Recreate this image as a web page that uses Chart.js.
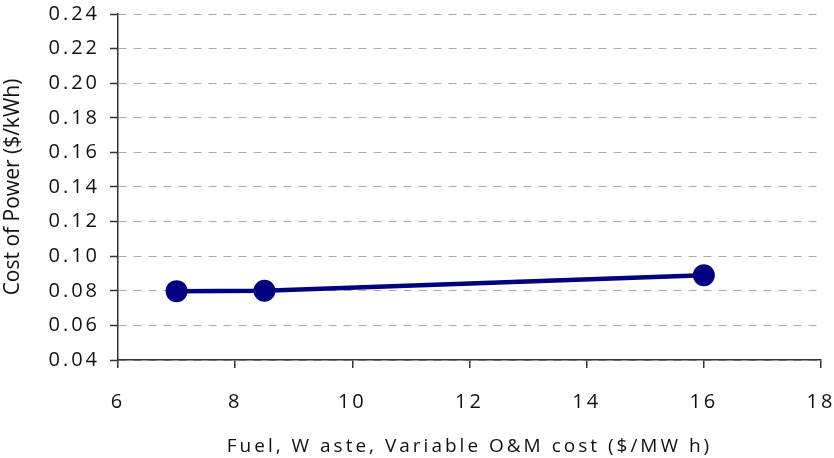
<!DOCTYPE html>
<html>
<head>
<meta charset="utf-8">
<script src="https://cdn.jsdelivr.net/npm/chart.js@4"></script>
<style>
  html, body { margin: 0; padding: 0; background: #fff; }
  #wrap { width: 834px; height: 458px; }
</style>
</head>
<body>
<div id="wrap"><canvas id="chart"></canvas></div>
<script>
// values
const costX = [7, 8.5, 16];            // $/MWh
const costOfPower = [0.0798, 0.0800, 0.0890]; // $/kWh
const xTicks = [6, 8, 10, 12, 14, 16, 18];
const yTicks = [0.04, 0.06, 0.08, 0.10, 0.12, 0.14, 0.16, 0.18, 0.20, 0.22, 0.24];

const navy = '#000080';
const axisColor = '#333';
const fontFamily = "'Open Sans', 'DejaVu Sans', sans-serif";
const letterGap = '3px';

// wide letter spacing like the original, but the y title is set normally
const spacing = {
  id: 'spacing',
  beforeInit(chart) { chart.ctx.letterSpacing = letterGap; },
  afterLayout(chart) {
    const ys = chart.scales.y;
    if (ys && !ys._patched) {
      const orig = ys.drawTitle.bind(ys);
      ys.drawTitle = function () {
        chart.ctx.letterSpacing = '0px';
        orig();
        chart.ctx.letterSpacing = letterGap;
      };
      ys._patched = true;
    }
  },
  beforeDraw(chart) { chart.ctx.letterSpacing = letterGap; }
};

const ctx = document.getElementById('chart').getContext('2d');
ctx.letterSpacing = letterGap;

new Chart(ctx, {
  type: 'scatter',
  data: {
    datasets: [{
      data: costX.map((x, i) => ({ x: x, y: costOfPower[i] })),
      showLine: true,
      borderColor: navy,
      backgroundColor: navy,
      borderWidth: 4.5,
      pointRadius: 11,
      pointHoverRadius: 11,
      pointBorderWidth: 0
    }]
  },
  options: {
    responsive: true,
    maintainAspectRatio: false,
    animation: false,
    layout: { padding: { top: 14, right: 13, left: 0, bottom: 0 } },
    plugins: {
      legend: { display: false },
      tooltip: { enabled: false }
    },
    scales: {
      x: {
        type: 'linear',
        min: 6,
        max: 18,
        afterBuildTicks: (scale) => { scale.ticks = xTicks.map(v => ({ value: v })); },
        afterFit: (scale) => {
          scale.height = 98;
          scale.paddingLeft = 0;
          scale.paddingRight = 0;
        },
        border: { color: axisColor, width: 1.5 },
        grid: { drawOnChartArea: false, tickLength: 8, color: axisColor, lineWidth: 1.5 },
        ticks: { color: '#111', padding: 22, font: { family: fontFamily, size: 20 } },
        title: {
          display: true,
          text: 'Fuel, W aste, Variable O&M cost ($/MW h)',
          color: '#111',
          padding: { top: 10, bottom: 0 },
          font: { family: fontFamily, size: 19 }
        }
      },
      y: {
        min: 0.04,
        max: 0.24,
        afterBuildTicks: (scale) => { scale.ticks = yTicks.map(v => ({ value: v })); },
        afterFit: (scale) => {
          scale.width = 118;
          scale.paddingTop = 0;
          scale.paddingBottom = 0;
        },
        border: { color: axisColor, width: 1.5, dash: [8, 7] },
        grid: {
          color: '#aaa',
          lineWidth: 1,
          tickLength: 8,
          tickColor: axisColor,
          tickWidth: 1.5,
          tickBorderDash: []
        },
        ticks: {
          color: '#111',
          padding: 10,
          font: { family: fontFamily, size: 20 },
          callback: (v) => v.toFixed(2)
        },
        title: {
          display: true,
          text: 'Cost of Power ($/kWh)',
          color: '#111',
          padding: { top: 0, bottom: 0 },
          font: { family: fontFamily, size: 21 }
        }
      }
    }
  },
  plugins: [spacing]
});
</script>
</body>
</html>
